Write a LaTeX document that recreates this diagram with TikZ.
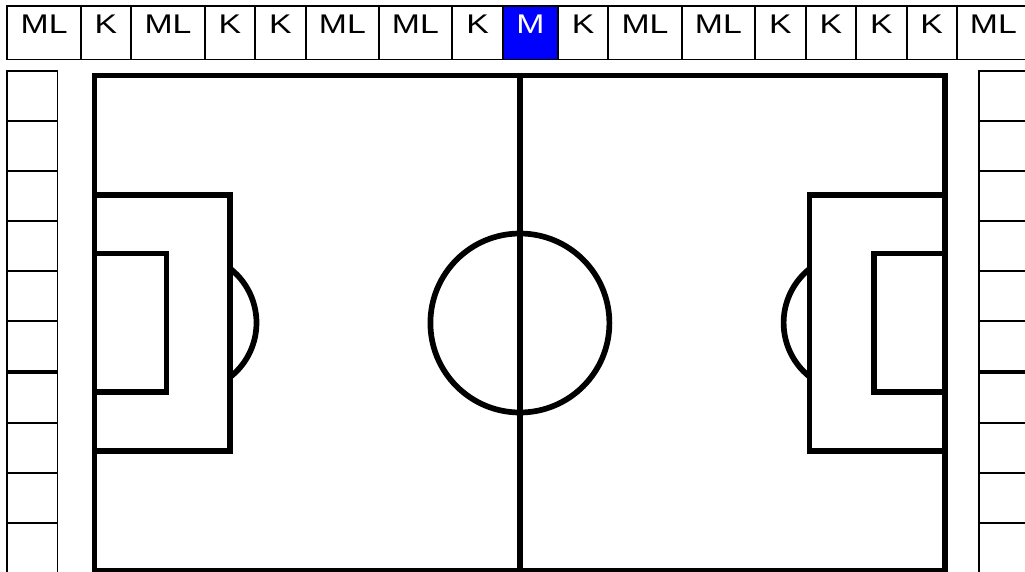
\documentclass[tikz,border=0pt]{standalone}
\usepackage{fontspec}
\setmainfont{Liberation Sans}
\newcommand{\widetext}[1]{\scalebox{1.25}[1]{#1}}
\begin{document}
\begin{tikzpicture}[x=1pt,y=-1pt,
  cell/.style={draw=black, line width=1.8pt, rectangle, inner sep=0pt,
    minimum height=53.5pt, text height=19.3pt, text depth=18.2pt,
    font=\fontsize{27}{30}\selectfont},
  mcell/.style={cell, fill=blue, text=white},
  panel/.style={draw=black, line width=1.6pt},
  pitch/.style={draw=black, line width=5.7pt}]
\useasboundingbox (0,0) rectangle (1025,571);
\clip (0,0) rectangle (1025,571);
\fill[white] (0,0) rectangle (1025,571);

% top bar
\node[cell, minimum width=73.7pt] (c1) at (44.15,32.75) {\widetext{ML}};
\node[cell, minimum width=50pt] (c2) at (106,32.75) {\widetext{K}};
\node[cell, minimum width=74pt] (c3) at (168,32.75) {\widetext{ML}};
\node[cell, minimum width=50pt] (c4) at (230,32.75) {\widetext{K}};
\node[cell, minimum width=50.7pt] (c5) at (280.35,32.75) {\widetext{K}};
\node[cell, minimum width=73.3pt] (c6) at (342.35,32.75) {\widetext{ML}};
\node[cell, minimum width=72.7pt] (c7) at (415.35,32.75) {\widetext{ML}};
\node[cell, minimum width=51.6pt] (c8) at (477.5,32.75) {\widetext{K}};
\node[mcell, minimum width=54.4pt] (c9) at (530.5,32.75) {\widetext{M}};
\node[cell, minimum width=50.6pt] (c10) at (583,32.75) {\widetext{K}};
\node[cell, minimum width=73.4pt] (c11) at (645,32.75) {\widetext{ML}};
\node[cell, minimum width=73.3pt] (c12) at (718.35,32.75) {\widetext{ML}};
\node[cell, minimum width=50.7pt] (c13) at (780.35,32.75) {\widetext{K}};
\node[cell, minimum width=50.3pt] (c14) at (830.85,32.75) {\widetext{K}};
\node[cell, minimum width=50.7pt] (c15) at (881.35,32.75) {\widetext{K}};
\node[cell, minimum width=50pt] (c16) at (931.7,32.75) {\widetext{K}};
\node[cell, minimum width=73.3pt] (c17) at (993.35,32.75) {\widetext{ML}};

% left side panels
\draw[panel] (7,70.7) rectangle (57.5,370.7);
\foreach \yy in {120.7,170.7,220.7,270.7,320.7} \draw[panel] (7,\yy) -- (57.5,\yy);
\draw[panel] (7,372.7) rectangle (57.5,572.7);
\foreach \yy in {422.7,472.7,522.7} \draw[panel] (7,\yy) -- (57.5,\yy);

% right side panels
\draw[panel] (978.8,70.7) rectangle (1029.3,370.7);
\foreach \yy in {120.7,170.7,220.7,270.7,320.7} \draw[panel] (978.8,\yy) -- (1029.3,\yy);
\draw[panel] (978.8,372.7) rectangle (1029.3,572.7);
\foreach \yy in {422.7,472.7,522.7} \draw[panel] (978.8,\yy) -- (1029.3,\yy);

% pitch
\draw[pitch] (94.5,75.5) rectangle (945.3,570.5);
\draw[pitch] (519.9,75.5) -- (519.9,570.5);
\draw[pitch] (519.9,323) circle[radius=89.5];
% left area
\draw[pitch] (94.5,194.8) rectangle (230.2,450.8);
\draw[pitch] (94.5,253.5) rectangle (166.5,391.8);
\draw[pitch] (187.5,322.8) ++(-51.8:69) arc[start angle=-51.8, end angle=51.8, radius=69];
% right area
\draw[pitch] (809.5,194.8) rectangle (945.3,450.8);
\draw[pitch] (873.7,253.5) rectangle (945.3,391.8);
\draw[pitch] (852.6,322.8) ++(128.2:69) arc[start angle=128.2, end angle=231.8, radius=69];
\end{tikzpicture}
\end{document}
